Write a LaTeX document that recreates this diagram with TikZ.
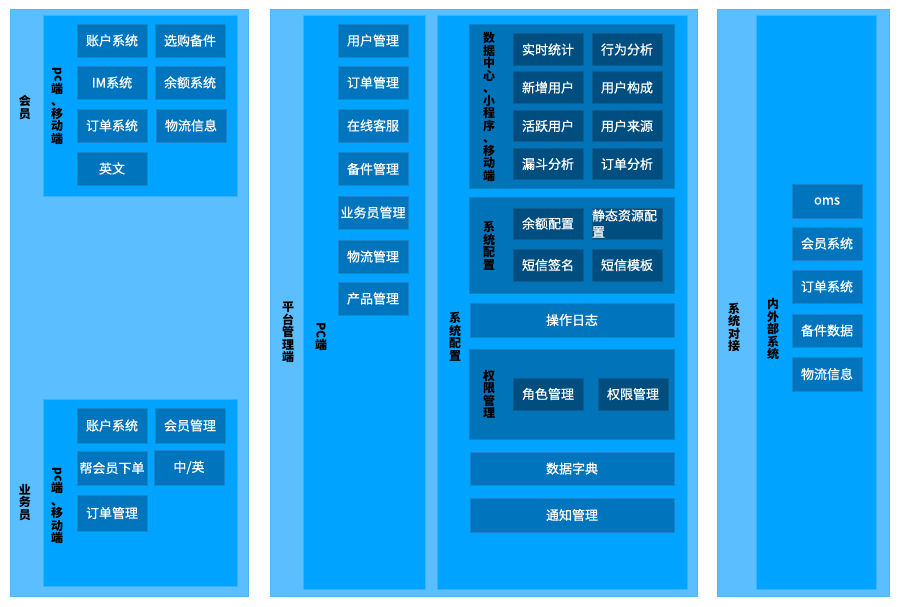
\documentclass[tikz,border=0pt]{standalone}
\usepackage{graphicx}
\usepackage{fontspec}
\newfontfamily\cjk{Noto Sans CJK SC}
\newfontfamily\cjkm{Noto Sans CJK SC}[FakeBold=0.7]
\definecolor{cOuter}{HTML}{5BBEFF}
\definecolor{cOuterB}{HTML}{4DB5F8}
\definecolor{cInner}{HTML}{00A3FF}
\definecolor{cInnerB}{HTML}{38B2FA}
\definecolor{cItem}{HTML}{0074BC}
\definecolor{cItemB}{HTML}{1A84C8}
\definecolor{cGrp}{HTML}{0073B9}
\definecolor{cGrpB}{HTML}{1080C4}
\definecolor{cDark}{HTML}{004E80}
\definecolor{cDarkB}{HTML}{0E5C8E}
\tikzset{
  box/.style={rectangle, inner sep=0pt, outer sep=0pt, line width=0.8pt},
  outerbox/.style={box, fill=cOuter, draw=cOuterB},
  innerbox/.style={box, fill=cInner, draw=cInnerB},
  grpbox/.style={box, fill=cGrp, draw=cGrpB},
  itembox/.style={box, fill=cItem, draw=cItemB, text=white,
    font=\cjkm\fontsize{13}{14}\selectfont, minimum width=70pt, minimum height=33pt},
  darkbox/.style={itembox, fill=cDark, draw=cDarkB, minimum height=31.5pt},
  vlabel/.style={inner sep=0pt, align=center, text=black,
    font=\cjk\bfseries\fontsize{12}{12.5}\selectfont}
}
\begin{document}
\begin{tikzpicture}[x=1pt,y=-1pt]
\useasboundingbox (0,0) rectangle (900,606);
\fill[white] (0,0) rectangle (900,606);

% ===== Left column =====
\node[outerbox, minimum width=238pt, minimum height=587pt] (outL) at (129,302.5) {};
\node[innerbox, minimum width=194pt, minimum height=181pt] (memIn) at (140,105.5) {};
\node[innerbox, minimum width=194pt, minimum height=187pt] (salIn) at (140,492.5) {};

\node[vlabel] (lblMem) at (25,107.5) {会\\员};
\node[vlabel] (lblMemPc) at (57,106) {\rotatebox{-90}{pc}\\端\\、\\移\\动\\端};
\node[itembox] (m1) at (112,40.5) {账户系统};
\node[itembox] (m2) at (190,40.5) {选购备件};
\node[itembox] (m3) at (112,82.5) {IM系统};
\node[itembox] (m4) at (190,82.5) {余额系统};
\node[itembox] (m5) at (112,125.5) {订单系统};
\node[itembox] (m6) at (191,125.5) {物流信息};
\node[itembox] (m7) at (112,168.5) {英文};

\node[vlabel] (lblSal) at (25,502.5) {业\\务\\员};
\node[vlabel] (lblSalPc) at (57,505.5) {\rotatebox{-90}{pc}\\端\\、\\移\\动\\端};
\node[itembox, minimum height=35pt] (s1) at (112,425.5) {账户系统};
\node[itembox, minimum height=35pt] (s2) at (190,425.5) {会员管理};
\node[itembox, minimum height=34pt] (s3) at (112,468) {帮会员下单};
\node[itembox, minimum height=35pt] (s4) at (189,467.5) {中/英};
\node[itembox, minimum height=36pt] (s5) at (112,513) {订单管理};

% ===== Middle column =====
\node[outerbox, minimum width=427pt, minimum height=587pt] (outM) at (483.5,302.5) {};
\node[innerbox, minimum width=122pt, minimum height=574pt] (pcIn) at (364,302) {};
\node[innerbox, minimum width=250pt, minimum height=574pt] (sysIn) at (562,302) {};

\node[vlabel] (lblPlat) at (288,332.5) {平\\台\\管\\理\\端};
\node[vlabel] (lblPc) at (321,336.5) {\rotatebox{-90}{PC}\\端};
\node[itembox] (p1) at (373,40.5) {用户管理};
\node[itembox] (p2) at (373,82.5) {订单管理};
\node[itembox] (p3) at (373,125.5) {在线客服};
\node[itembox] (p4) at (373,169) {备件管理};
\node[itembox] (p5) at (373,212.5) {业务员管理};
\node[itembox] (p6) at (373,256.5) {物流管理};
\node[itembox] (p7) at (373,298.5) {产品管理};

\node[vlabel] (lblSys) at (455,336.5) {系\\统\\配\\置};

\node[grpbox, minimum width=205pt, minimum height=164pt] (dataGrp) at (571.5,106) {};
\node[vlabel] (lblData) at (489,107) {数\\据\\中\\心\\、\\小\\程\\序\\、\\移\\动\\端};
\node[darkbox] (d1) at (548,49.5) {实时统计};
\node[darkbox] (d2) at (627,49.5) {行为分析};
\node[darkbox] (d3) at (548,87.5) {新增用户};
\node[darkbox] (d4) at (627,87.5) {用户构成};
\node[darkbox] (d5) at (548,126) {活跃用户};
\node[darkbox] (d6) at (627,126) {用户来源};
\node[darkbox] (d7) at (548,164) {漏斗分析};
\node[darkbox] (d8) at (627,164) {订单分析};

\node[grpbox, minimum width=205pt, minimum height=96pt] (cfgGrp) at (571.5,245) {};
\node[vlabel] (lblCfg) at (489,245.5) {系\\统\\配\\置};
\node[darkbox, minimum height=31pt] (c1) at (548,223.5) {余额配置};
\node[darkbox, minimum height=31pt, text width=70pt, align=left,
  font=\cjkm\fontsize{13}{16.5}\selectfont] (c2) at (627,223.5) {静态资源配\\置};
\node[darkbox, minimum height=32pt] (c3) at (548,265) {短信签名};
\node[darkbox, minimum height=32pt] (c4) at (627,265) {短信模板};

\node[itembox, minimum width=204pt, minimum height=34pt] (log) at (572,320) {操作日志};

\node[grpbox, minimum width=205pt, minimum height=90pt] (permGrp) at (571.5,394) {};
\node[vlabel] (lblPerm) at (489,394) {权\\限\\管\\理};
\node[darkbox, minimum height=32pt] (r1) at (548,394) {角色管理};
\node[darkbox, minimum height=32pt] (r2) at (633,394) {权限管理};

\node[itembox, minimum width=204pt, minimum height=33pt] (dict) at (572,468.5) {数据字典};
\node[itembox, minimum width=204pt, minimum height=34pt] (notice) at (572,515) {通知管理};

% ===== Right column =====
\node[outerbox, minimum width=172pt, minimum height=587pt] (outR) at (803,302.5) {};
\node[innerbox, minimum width=120pt, minimum height=574pt] (extIn) at (816,302) {};
\node[vlabel] (lblDock) at (734,327.5) {系\\统\\对\\接};
\node[vlabel] (lblExt) at (773,329) {内\\外\\部\\系\\统};
\node[itembox, minimum height=34pt] (e1) at (827,201) {oms};
\node[itembox] (e2) at (827,243.5) {会员系统};
\node[itembox] (e3) at (827,286.5) {订单系统};
\node[itembox] (e4) at (827,330.5) {备件数据};
\node[itembox, minimum height=34pt] (e5) at (827,374) {物流信息};
\end{tikzpicture}
\end{document}
